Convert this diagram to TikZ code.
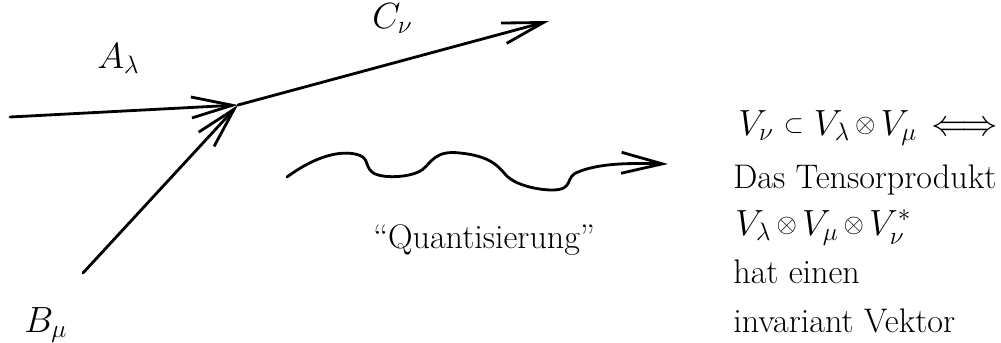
\documentclass[tikz,border=0pt]{standalone}
\usepackage{graphicx}
\usetikzlibrary{arrows.meta}
\newcommand\sotimes{\mathbin{\vcenter{\hbox{\scalebox{0.72}{$\otimes$}}}}}
\newcommand\ssubset{\mathrel{\vcenter{\hbox{\scalebox{0.7}{$\subset$}}}}}
\begin{document}
\begin{tikzpicture}[x=0.02cm,y=-0.02cm,
  ln/.style={line width=1.6pt, line cap=round, line join=round},
  barb/.style={-{Straight Barb[length=0.82cm,width=0.42cm,line width=1.6pt]}},
  lbl/.style={inner sep=0pt, anchor=base west, font=\fontsize{19.4}{24}\selectfont}]
\useasboundingbox (0,0) rectangle (1001,342);
\coordinate (v) at (238,105);
\coordinate (a0) at (10,117);
\coordinate (b0) at (83,273);
\coordinate (c1) at (549,21);
\coordinate (w0) at (287,177);
\coordinate (w1) at (668,164);
\draw[ln,barb] (a0) -- (v);
\draw[ln,barb] (b0) -- (v);
\draw[ln,barb] (v) -- (c1);
\draw[ln,barb] (w0) .. controls (310,160) and (335,150) .. (355,154)
  .. controls (370,157) and (364,165) .. (372,172)
  .. controls (380,179) and (410,178) .. (422,170)
  .. controls (432,162) and (435,150) .. (460,153)
  .. controls (490,156) and (498,166) .. (505,174)
  .. controls (515,186) and (540,190) .. (552,190)
  .. controls (575,190) and (564,177) .. (578,172)
  .. controls (600,163) and (630,163) .. (w1);
\node[lbl] (A) at (97,68) {$A_\lambda$};
\node[lbl] (C) at (372,28) {$C_\nu$};
\node[lbl] (B) at (24,332) {$B_\mu$};
\node[lbl] (Q) at (373,248) {``Quantisierung''};
\node[lbl] (t1) at (738,135) {$\medmuskip=2.5mu V_\nu \ssubset V_\lambda\sotimes V_\mu$};
\node[lbl] (t1b) at (931,135) {$\Longleftrightarrow$};
\node[lbl] (t2) at (733,188) {Das Tensorprodukt};
\node[lbl] (t3) at (735,235) {$\medmuskip=2.5mu V_\lambda\sotimes V_\mu\sotimes V_\nu^*$};
\node[lbl] (t4) at (733,283) {hat einen};
\node[lbl] (t5) at (733,332) {invariant Vektor};
\end{tikzpicture}
\end{document}
